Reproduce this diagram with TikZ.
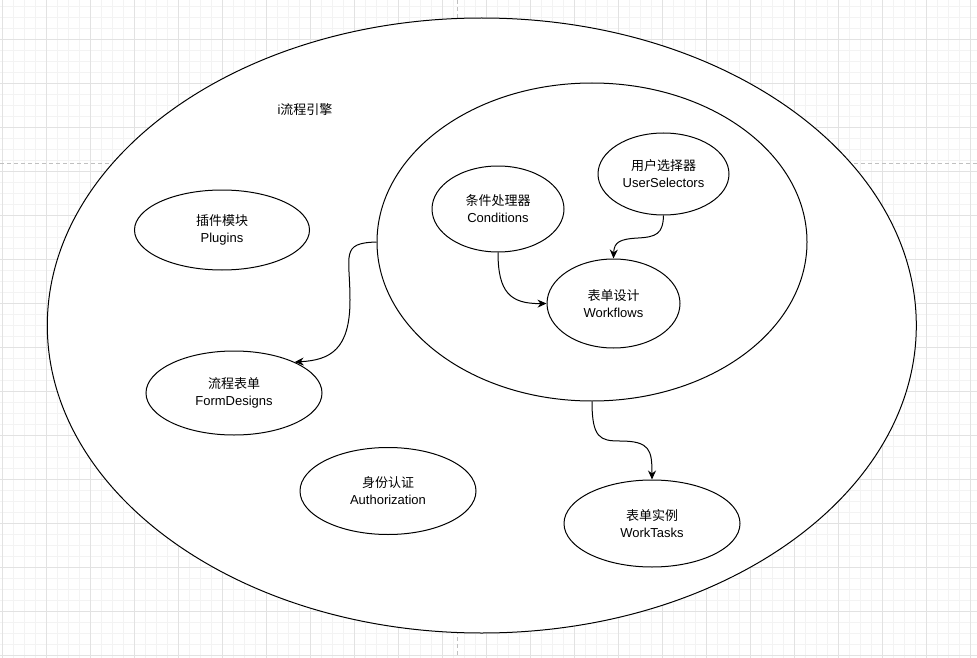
\documentclass[tikz,border=0pt]{standalone}
\usepackage{fontspec}
\setmainfont{Liberation Sans}
\newfontfamily\cjk{Noto Sans CJK SC}
\usetikzlibrary{shapes.geometric,arrows.meta}
\definecolor{gridminor}{HTML}{F3F3F3}
\definecolor{gridmajor}{HTML}{E2E2E2}
\definecolor{pagebreak}{HTML}{C0C0C0}
\begin{document}
\begin{tikzpicture}[x=1pt,y=-1pt,
  minor/.style={draw=gridminor,line width=0.8pt},
  major/.style={draw=gridmajor,line width=0.8pt},
  pbreak/.style={draw=pagebreak,dashed,dash pattern=on 4pt off 3pt,line width=0.8pt},
  ell/.style={ellipse,draw=black,line width=1pt,fill=white,inner sep=0pt,align=center,
    font=\fontsize{13}{17}\selectfont},
  arr/.style={-{Stealth[length=9pt,width=8pt]},line width=1pt,draw=black}]
\useasboundingbox (0,0) rectangle (977,658);
\fill[white] (0,0) rectangle (977,658);
% grid
\foreach \i in {0,...,88} \draw[minor] ({2.67+11*\i},0) -- ({2.67+11*\i},658);
\foreach \j in {0,...,59} \draw[minor] (0,{6.33+11*\j}) -- (977,{6.33+11*\j});
\foreach \i in {0,...,22} \draw[major] ({2.67+44*\i},0) -- ({2.67+44*\i},658);
\foreach \j in {0,...,14} \draw[major] (0,{39.33+44*\j}) -- (977,{39.33+44*\j});
% page breaks
\draw[pbreak] (0,163.3) -- (977,163.3);
\draw[pbreak] (457,0) -- (457,658);
% containers
\node[ell,minimum width=869pt,minimum height=615pt] (outer) at (481.8,325.5) {};
\node[font=\fontsize{13}{17}\selectfont] (title) at (305,110) {i{\cjk 流程引擎}};
\node[ell,minimum width=430pt,minimum height=318pt] (inner) at (592,242) {};
% nodes
\node[ell,minimum width=175pt,minimum height=80pt] (plug) at (222,230) {{\cjk 插件模块}\\Plugins};
\node[ell,minimum width=176pt,minimum height=84pt] (fd) at (234,393) {{\cjk 流程表单}\\FormDesigns};
\node[ell,minimum width=176pt,minimum height=87pt] (auth) at (388,491) {{\cjk 身份认证}\\Authorization};
\node[ell,minimum width=176pt,minimum height=87pt] (wt) at (652,523.5) {{\cjk 表单实例}\\WorkTasks};
\node[ell,minimum width=132pt,minimum height=86pt] (cond) at (498,209) {{\cjk 条件处理器}\\Conditions};
\node[ell,minimum width=131pt,minimum height=82pt] (us) at (663.5,174) {{\cjk 用户选择器}\\UserSelectors};
\node[ell,minimum width=133pt,minimum height=89pt] (wf) at (613.5,303.5) {{\cjk 表单设计}\\Workflows};
% connectors
\draw[arr] (cond.south) .. controls (498,292) and (510,304) .. (wf.west);
\draw[arr] (us.south) .. controls (663,234) and (656,237) .. (638,238)
  .. controls (620,239) and (614,242) .. (wf.north);
\draw[arr] (inner.west) .. controls (340,243) and (350,255) .. (350,300)
  .. controls (350,350) and (330,360) .. (fd.27);
\draw[arr] (inner.south) .. controls (592,438) and (600,441) .. (620,441)
  .. controls (650,441) and (652,450) .. (wt.north);
\end{tikzpicture}
\end{document}
